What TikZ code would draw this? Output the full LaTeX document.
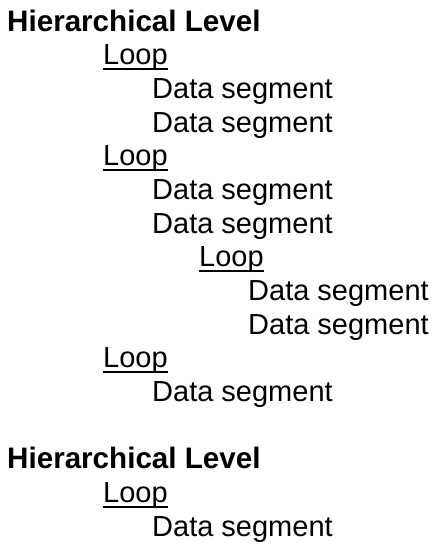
\documentclass[tikz,border=0pt]{standalone}
\usepackage{fontspec}
\setmainfont{Liberation Sans}
\usepackage{tikz}
\usetikzlibrary{positioning}

\tikzset{
  entry/.style={anchor=base west, inner sep=0pt, font=\fontsize{29}{34}\selectfont},
  level/.style={entry, font=\fontsize{29.6}{34}\selectfont\bfseries},
  loop/.style={entry},
  seg/.style={entry}
}

\begin{document}
\begin{tikzpicture}
		\useasboundingbox (0pt,0pt) rectangle (433pt,-544pt);
		\begin{scope}[shift={(0pt,-31pt)}, x=1pt, y=-33.67pt]
		% First hierarchy
		\node[level] (lvlA) at (7,0) {Hierarchical Level};
		\node[loop] (loopA) at (103,1) {Loop};
		\node[seg] (segA1) at (152,2) {Data segment};
		\node[seg] (segA2) at (152,3) {Data segment};
		\node[loop] (loopB) at (103,4) {Loop};
		\node[seg] (segB1) at (152,5) {Data segment};
		\node[seg] (segB2) at (152,6) {Data segment};
		\node[loop] (loopC) at (199,7) {Loop}; % nested loop
		\node[seg] (segC1) at (248,8) {Data segment};
		\node[seg] (segC2) at (248,9) {Data segment};
		\node[loop] (loopD) at (103,10) {Loop};
		\node[seg] (segD1) at (152,11) {Data segment};

		% Second hierarchy
		\node[level] (lvlB) at (7,13) {Hierarchical Level};
		\node[loop] (loopE) at (103,14) {Loop};
		\node[seg] (segE1) at (152,15) {Data segment};
		\end{scope}

		% Underline the loops
		\foreach \n in {loopA,loopB,loopC,loopD,loopE}
			\draw[line width=1.9pt] ([yshift=-4.6pt]\n.base west) -- ([yshift=-4.6pt]\n.base east);
	\end{tikzpicture}
\end{document}
